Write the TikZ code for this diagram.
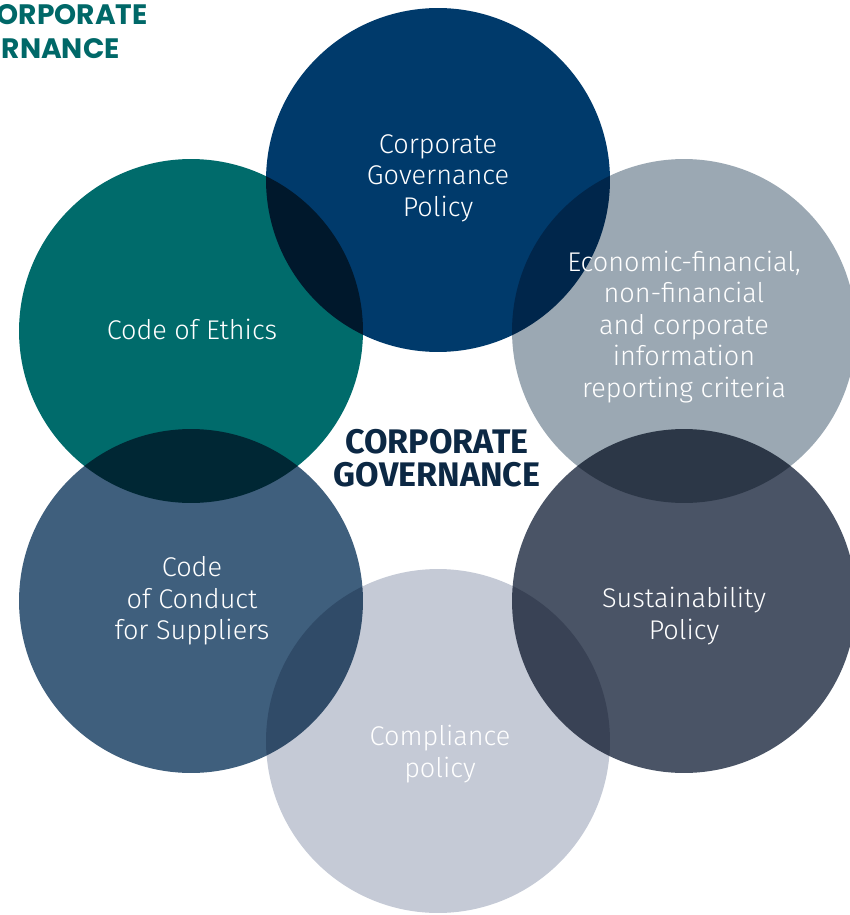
\documentclass[tikz,border=0pt]{standalone}
\usepackage{fontspec}
\setmainfont{Fira Sans Light}
\newfontfamily\hubfont{Fira Sans}
\newfontfamily\headfont{Poppins}
\usetikzlibrary{positioning}
\definecolor{govnavy}{RGB}{0,58,107}
\definecolor{govteal}{RGB}{0,107,107}
\definecolor{govsteel}{RGB}{155,168,179}
\definecolor{govslate}{RGB}{63,95,125}
\definecolor{govgraphite}{RGB}{74,84,102}
\definecolor{govmist}{RGB}{197,202,214}
\definecolor{hubnavy}{RGB}{12,40,68}
\definecolor{headteal}{RGB}{0,104,104}

\begin{document}
\begin{tikzpicture}[x=0.02cm,y=-0.02cm,
  every node/.style={font=\fontsize{15.4}{17.9}\selectfont,text=white,align=center},
  head/.style={anchor=base east,inner sep=0pt,text=headteal,
    font=\headfont\bfseries\fontsize{16}{19}\selectfont}]
  \useasboundingbox (0,0) rectangle (849,915);
  \clip (0,0) rectangle (849,915);
  \begin{scope}[blend group=multiply]
    \fill[govnavy] (438,180) circle[radius=3.44cm];
    \fill[govteal] (191,331) circle[radius=3.44cm];
    \fill[govsteel] (684,331) circle[radius=3.44cm];
    \fill[govslate] (191,601) circle[radius=3.44cm];
    \fill[govgraphite] (684,601) circle[radius=3.44cm];
    \fill[govmist] (438,741) circle[radius=3.44cm];
  \end{scope}
  \node (policy) at (438,178) {Corporate\\Governance\\Policy};
  \node (ethics) at (192,329) {Code of Ethics};
  \node (reporting) at (684,327) {Economic-financial,\\non-financial\\and corporate\\information\\reporting criteria};
  \node (suppliers) at (192,601) {Code\\of Conduct\\for Suppliers};
  \node (sustain) at (684,616) {Sustainability\\Policy};
  \node (compliance) at (440,754) {Compliance\\policy};
  \node[font=\hubfont\bfseries\fontsize{19.4}{18.7}\selectfont,text=hubnavy] (hub) at (437,458) {CORPORATE\\GOVERNANCE};
  \node[head] (headtop) at (148,25) {CORPORATE};
  \node[head] (headbot) at (120,59) {GOVERNANCE};
\end{tikzpicture}
\end{document}
